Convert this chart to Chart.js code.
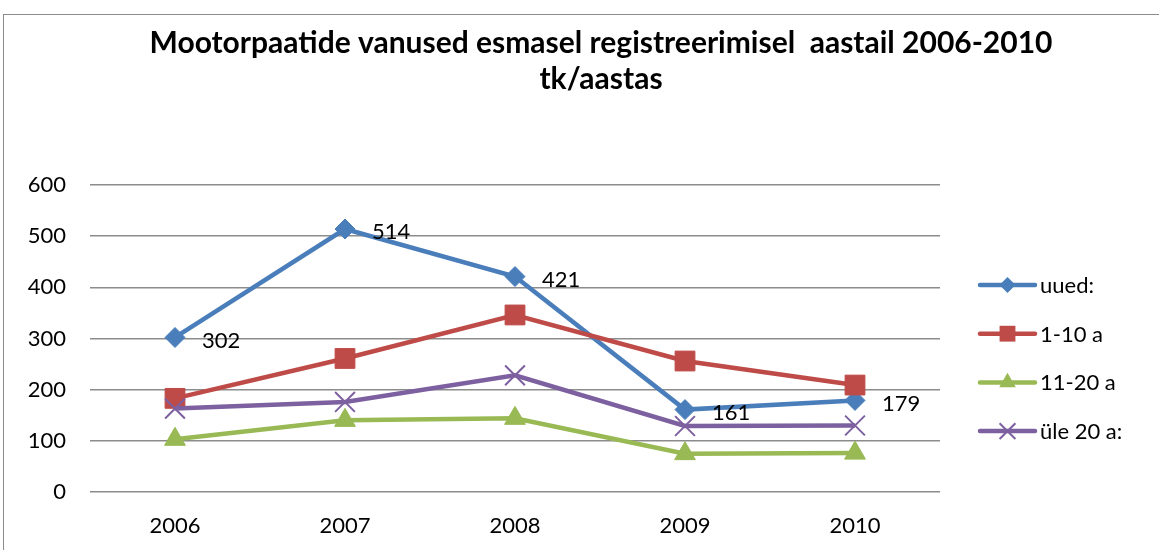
<!DOCTYPE html>
<html>
<head>
<meta charset="utf-8">
<script src="https://cdn.jsdelivr.net/npm/chart.js@4.4.0/dist/chart.umd.min.js"></script>
<style>
  body { margin: 0; background: #fff; overflow: hidden; }
  #frame { position: absolute; left: 3px; top: 14px; width: 1300px; height: 700px; border: 1px solid #8c8c8c; }
  #wrap { position: absolute; left: 0; top: 0; width: 1159px; height: 550px; }
</style>
</head>
<body>
<div id="frame"></div>
<div id="wrap"><canvas id="lineChart"></canvas></div>
<script>
const years = ["2006", "2007", "2008", "2009", "2010"];
const seriesNames = ["uued:", "1-10 a", "11-20 a", "üle 20 a:"];
const uued = [302, 514, 421, 161, 179];
const aged1to10 = [183, 261, 346, 256, 209];
const aged11to20 = [103, 140, 144, 75, 76];
const over20 = [163, 176, 228, 129, 130];
const yTicks = [0, 100, 200, 300, 400, 500, 600];

const FONT = "Lato, 'Open Sans', sans-serif";

function drawMarker(ctx, style, x, y, r, color) {
  ctx.save();
  ctx.fillStyle = color;
  ctx.strokeStyle = color;
  ctx.beginPath();
  if (style === "rectRot") {
    ctx.moveTo(x, y - r);
    ctx.lineTo(x + r, y);
    ctx.lineTo(x, y + r);
    ctx.lineTo(x - r, y);
    ctx.closePath();
    ctx.fill();
  } else if (style === "rect") {
    const s = r * Math.SQRT1_2;
    ctx.rect(x - s, y - s, 2 * s, 2 * s);
    ctx.fill();
  } else if (style === "triangle") {
    ctx.moveTo(x, y - r);
    ctx.lineTo(x + r * 0.866, y + r * 0.5);
    ctx.lineTo(x - r * 0.866, y + r * 0.5);
    ctx.closePath();
    ctx.fill();
  } else {
    const s = r * Math.SQRT1_2;
    ctx.lineWidth = 2;
    ctx.moveTo(x - s, y - s);
    ctx.lineTo(x + s, y + s);
    ctx.moveTo(x + s, y - s);
    ctx.lineTo(x - s, y + s);
    ctx.stroke();
  }
  ctx.restore();
}

// value labels beside the "uued" points
const valueLabels = {
  id: "valueLabels",
  afterDatasetsDraw(chart) {
    const ctx = chart.ctx;
    const meta = chart.getDatasetMeta(0);
    ctx.save();
    ctx.font = "22px " + FONT;
    ctx.fillStyle = "#000";
    ctx.textAlign = "left";
    ctx.textBaseline = "middle";
    meta.data.forEach(function (pt, i) {
      ctx.fillText(String(uued[i]), pt.x + 27, pt.y + 3);
    });
    ctx.restore();
  },
};

// legend with line + marker like the original
const sideLegend = {
  id: "sideLegend",
  afterDraw(chart) {
    const ctx = chart.ctx;
    const x0 = 980, x1 = 1035;
    const yStart = 285, step = 48.7;
    chart.data.datasets.forEach(function (ds, i) {
      const y = yStart + i * step;
      ctx.save();
      ctx.strokeStyle = ds.borderColor;
      ctx.lineWidth = 4.5;
      ctx.lineCap = "round";
      ctx.beginPath();
      ctx.moveTo(x0, y);
      ctx.lineTo(x1, y);
      ctx.stroke();
      ctx.restore();
      drawMarker(ctx, ds.pointStyle, (x0 + x1) / 2, y, ds.pointRadius * 0.8, ds.borderColor);
      ctx.save();
      ctx.font = "22px " + FONT;
      ctx.fillStyle = "#000";
      ctx.textBaseline = "middle";
      ctx.fillText(ds.label, x1 + 5, y + 1);
      ctx.restore();
    });
  },
};

function makeSet(label, data, color, style, radius, order) {
  return {
    label: label,
    data: data,
    borderColor: color,
    backgroundColor: color,
    pointBackgroundColor: color,
    pointBorderColor: color,
    borderWidth: 4.5,
    pointStyle: style,
    pointRadius: radius,
    pointHoverRadius: radius,
    pointBorderWidth: style === "crossRot" ? 2 : 1,
    tension: 0,
    order: order,
    yAxisID: "y",
  };
}

const ctx = document.getElementById("lineChart");
new Chart(ctx, {
  type: "line",
  data: {
    labels: years,
    datasets: [
      makeSet(seriesNames[0], uued, "#4A7EBB", "rectRot", 10, 4),
      makeSet(seriesNames[1], aged1to10, "#BE4B48", "rect", 14, 3),
      makeSet(seriesNames[2], aged11to20, "#98B954", "triangle", 12, 2),
      makeSet(seriesNames[3], over20, "#7D60A0", "crossRot", 14, 1),
    ],
  },
  options: {
    responsive: true,
    maintainAspectRatio: false,
    animation: false,
    // negative right padding shifts the full-width title to where the original has it
    layout: { padding: { left: 0, right: -43, top: 0, bottom: 0 } },
    plugins: {
      legend: { display: false },
      tooltip: { enabled: false },
      title: {
        display: true,
        text: ["Mootorpaatide vanused esmasel registreerimisel  aastail 2006-2010", "tk/aastas"],
        color: "#000",
        font: { family: FONT, size: 30, weight: "bold", lineHeight: 1.2 },
        padding: { top: 25, bottom: 88 },
      },
    },
    scales: {
      x: {
        offset: true,
        grid: { display: false, drawTicks: false },
        border: { display: false },
        ticks: { color: "#000", font: { family: FONT, size: 22 }, padding: 21, maxRotation: 0 },
        afterFit: function (axis) { axis.height = 58; },
      },
      y: {
        min: 0,
        max: 600,
        afterBuildTicks: function (axis) {
          axis.ticks = yTicks.map(function (v) { return { value: v }; });
        },
        grid: { color: "#8c8c8c", lineWidth: 1.5, drawTicks: false },
        border: { display: false },
        ticks: { color: "#000", font: { family: FONT, size: 22 }, padding: 24 },
        afterFit: function (axis) { axis.width = 90; },
      },
      legendSpace: {
        type: "linear",
        position: "right",
        grid: { display: false, drawTicks: false },
        border: { display: false },
        ticks: { display: false },
        afterFit: function (axis) { axis.width = 262; },
      },
    },
  },
  plugins: [valueLabels, sideLegend],
});
</script>
</body>
</html>
